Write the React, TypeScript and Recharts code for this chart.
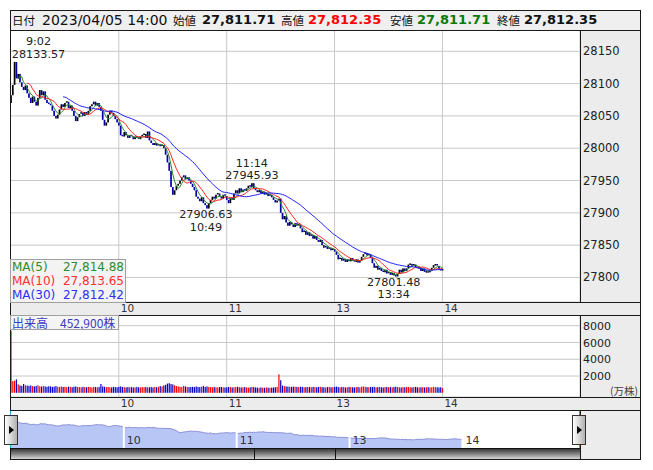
import React from 'react';
import { ComposedChart, Bar, Line, Area, XAxis, YAxis, CartesianGrid, ReferenceDot, ReferenceLine } from 'recharts';

const FONT = '"DejaVu Sans", Verdana, sans-serif';
const JP = '"Noto Sans CJK JP", "DejaVu Sans", sans-serif';

// ---- data ----
const tradeDate = '2023/04/05';
const firstOpen = 28070;
const closes = [
  28082, 28098, 28133.57, 28108, 28115, 28102, 28095, 28090, 28097, 28085,
  28078, 28070, 28080, 28072, 28066, 28078, 28090, 28082, 28088, 28075,
  28070, 28068, 28066, 28058, 28050, 28046, 28052, 28060, 28068, 28064,
  28070, 28072, 28062, 28066, 28058, 28050, 28042, 28048, 28053, 28055,
  28050, 28056, 28052, 28058, 28065, 28068, 28072, 28066, 28070, 28064,
  28058, 28044, 28035, 28040, 28052, 28058, 28055, 28050, 28045, 28040,
  28035, 28020, 28018, 28025, 28020, 28016, 28020, 28018, 28014, 28018,
  28016, 28014, 28018, 28020, 28022, 28016, 28026, 28012, 28008, 28005,
  28008, 28004, 28006, 28003, 28005, 28000, 27990, 27978, 27965, 27940,
  27928, 27935, 27942, 27945, 27950, 27955, 27958, 27952, 27955, 27950,
  27945, 27940, 27935, 27925, 27922, 27918, 27924, 27915, 27912, 27906.63,
  27915, 27920, 27925, 27922, 27928, 27930, 27925, 27922, 27928, 27926,
  27920, 27915, 27922, 27920, 27930, 27935, 27930, 27938, 27932, 27936,
  27934, 27938, 27942, 27940, 27945.93, 27938, 27935, 27932, 27935, 27930,
  27933, 27928, 27930, 27926, 27928, 27924, 27920, 27916, 27919, 27922,
  27900, 27890, 27895, 27885, 27880, 27886, 27882, 27878, 27884, 27880,
  27882, 27876, 27870, 27872, 27866, 27870, 27864, 27866, 27860, 27864,
  27858, 27855, 27858, 27850, 27846, 27848, 27844, 27846, 27842, 27844,
  27840, 27835, 27828, 27830, 27826, 27829, 27824, 27828, 27825, 27830,
  27826, 27824, 27828, 27823, 27826, 27832, 27836, 27838, 27834, 27836,
  27830, 27822, 27815, 27818, 27812, 27815, 27810, 27808, 27812, 27806,
  27808, 27804, 27807, 27803, 27801.48, 27806, 27812, 27808, 27814, 27810,
  27814, 27820, 27821, 27818, 27820, 27816, 27814, 27815, 27810, 27814,
  27808.62, 27809, 27808, 27811, 27815, 27819.09, 27820, 27818, 27812.35, 27811.71,
  27812.35,
];
const volumes = [
  7400, 1400, 1450, 1600, 1000, 880, 820, 1050, 900, 860,
  830, 880, 800, 760, 820, 900, 780, 740, 800, 760,
  720, 780, 760, 700, 740, 800, 720, 690, 760, 700,
  720, 680, 740, 700, 660, 720, 760, 690, 700, 650,
  700, 680, 660, 720, 690, 640, 700, 680, 660, 700,
  1050, 760, 720, 680, 700, 660, 640, 700, 680, 660,
  720, 760, 700, 680, 640, 700, 660, 680, 640, 660,
  700, 660, 640, 680, 660, 700, 640, 660, 680, 640,
  700, 660, 720, 800, 760, 880, 950, 1100, 1150, 1050,
  1000, 900, 800, 760, 720, 700, 820, 760, 700, 680,
  700, 720, 680, 760, 700, 680, 720, 800, 700, 760,
  700, 680, 650, 700, 660, 640, 680, 700, 660, 640,
  660, 700, 680, 640, 660, 700, 720, 680, 640, 660,
  680, 640, 620, 660, 700, 680, 640, 620, 600, 640,
  620, 600, 640, 620, 600, 620, 640, 660, 700, 2200,
  1500, 860, 800, 760, 740, 720, 700, 740, 720, 700,
  680, 720, 700, 660, 680, 700, 680, 660, 700, 680,
  660, 700, 720, 680, 660, 640, 680, 700, 660, 680,
  700, 740, 680, 660, 700, 680, 640, 660, 700, 680,
  660, 640, 680, 700, 660, 720, 760, 700, 680, 660,
  700, 680, 720, 660, 680, 700, 660, 640, 680, 700,
  660, 680, 640, 700, 720, 680, 660, 640, 680, 660,
  700, 680, 660, 640, 680, 700, 660, 640, 660, 680,
  640, 660, 680, 640, 660, 700, 680, 660, 640, 660,
  560,
];
const volumeLabel = '出来高　452,900株';
const priceTicks = [27800, 27850, 27900, 27950, 28000, 28050, 28100, 28150];
const volumeTicks = [2000, 4000, 6000, 8000];
const hourTicks = ['10:00', '11:00', '13:00', '14:00'];
const annotations = [
  { time: '9:02', value: 28133.57, above: true, dx: 24 },
  { time: '11:14', value: 27945.93, above: true, dx: 0 },
  { time: '10:49', value: 27906.63, above: false, dx: -1 },
  { time: '13:34', value: 27801.48, above: false, dx: -2 },
];
const maPeriods = [
  { n: 5, key: 'ma5', color: '#2a8a2a', text: '#2e8b2e' },
  { n: 10, key: 'ma10', color: '#ff2020', text: '#ff3030' },
  { n: 30, key: 'ma30', color: '#2020ff', text: '#3030f0' },
];

// ---- categories (minute slots, lunch break removed) ----
const fmtTime = (m: number) => `${Math.floor(m / 60)}:${String(m % 60).padStart(2, '0')}`;
const MAIN_SLOTS = 317;
const NAV_SLOTS = 303;
const slotTimes: string[] = [];
for (let m = 9 * 60; m < 11 * 60 + 30; m++) slotTimes.push(fmtTime(m));
for (let m = 12 * 60 + 30; slotTimes.length < MAIN_SLOTS; m++) slotTimes.push(fmtTime(m));

const movingAvg = (n: number, i: number) => {
  if (i < n - 1) return null;
  let s = 0;
  for (let k = i - n + 1; k <= i; k++) s += closes[k];
  return s / n;
};

const mainData = slotTimes.map((t, i) => {
  if (i >= closes.length) return { t } as any;
  const o = i === 0 ? firstOpen : closes[i - 1];
  const c = closes[i];
  const row: any = { t, o, c, up: c >= o, body: [Math.min(o, c), Math.max(o, c)], vol: volumes[i] };
  maPeriods.forEach((p) => (row[p.key] = movingAvg(p.n, i)));
  return row;
});
const navData = mainData.slice(0, NAV_SLOTS);
const last = mainData[closes.length - 1];

const comma = (v: number) => v.toLocaleString('en-US', { minimumFractionDigits: 2, maximumFractionDigits: 2 });

// ---- shapes ----
const Candle = (p: any) => {
  const { x, y, width, height, payload } = p;
  if (!payload || payload.c == null) return <g />;
  const top = height < 0 ? y + height : y;
  const h = Math.max(1.5, Math.abs(height));
  const cx = x + width / 2;
  return <rect x={cx - 0.85} y={top - (h > Math.abs(height) ? 0.5 : 0)} width={1.7} height={h} fill={payload.up ? '#000000' : '#0000a8'} />;
};
const VolBar = (p: any) => {
  const { x, y, width, height, payload } = p;
  if (!payload || payload.vol == null) return <g />;
  const top = height < 0 ? y + height : y;
  const cx = x + width / 2;
  return <rect x={cx - 0.6} y={top} width={1.2} height={Math.abs(height)} fill={payload.up ? '#ff0000' : '#0000c8'} />;
};
const HourTick = (p: any) => (
  <text x={p.x + 2} y={p.y + 10} fontSize={10.5} fill="#333" fontFamily={FONT}>
    {String(p.payload.value).split(':')[0]}
  </text>
);
const RightTick = (size: number) => (p: any) => (
  <text x={p.x + 3} y={p.y + 4} fontSize={size} fill="#222" fontFamily={FONT}>
    {p.payload.value}
  </text>
);
const annLabel = (a: any) => (props: any) => {
  const vb = props.viewBox || { x: 0, y: 0, width: 0, height: 0 };
  const cx = vb.x + (vb.width || 0) / 2 + a.dx;
  const cy = vb.y + (vb.height || 0) / 2;
  const lines = a.above ? [a.time, a.value.toFixed(2)] : [a.value.toFixed(2), a.time];
  const y1 = a.above ? cy - 16.5 : cy + 9.5;
  return (
    <g>
      <text x={cx} y={y1} textAnchor="middle" fontSize={11.2} fill="#222" fontFamily={FONT}>{lines[0]}</text>
      <text x={cx} y={y1 + 12.5} textAnchor="middle" fontSize={11.2} fill="#222" fontFamily={FONT}>{lines[1]}</text>
    </g>
  );
};
const navLabel = (txt: string) => (props: any) => {
  const vb = props.viewBox || { x: 0, y: 0, height: 0 };
  return (
    <text x={vb.x + 3} y={vb.y + vb.height - 4} fontSize={11} fill="#333" fontFamily={FONT}>{txt}</text>
  );
};

const abs = (l: number, t: number, w: number, h: number, extra: any = {}) => ({
  position: 'absolute' as const, left: l, top: t, width: w, height: h, boxSizing: 'border-box' as const, ...extra,
});

const Handle = ({ left }: { left: number }) => (
  <div style={abs(left, 415, 14, 30, { border: '1px solid #333', background: 'linear-gradient(to right, #ffffff, #b0b0b0)' })}>
    <div style={{ position: 'absolute', left: 4, top: 10, width: 0, height: 0, borderTop: '4px solid transparent', borderBottom: '4px solid transparent', borderLeft: '5px solid #000' }} />
  </div>
);

export default function App() {
  const headerItems = [
    { x: 12, text: '日付', font: JP, size: 11.5, weight: 400, color: '#111' },
    { x: 42, text: `${tradeDate} ${last.t}`, font: FONT, size: 14, weight: 400, color: '#111' },
    { x: 173, text: '始値', font: JP, size: 11.5, weight: 400, color: '#111' },
    { x: 202, text: comma(last.o), font: FONT, size: 13, weight: 700, color: '#111' },
    { x: 281, text: '高値', font: JP, size: 11.5, weight: 400, color: '#111' },
    { x: 308, text: comma(Math.max(last.o, last.c)), font: FONT, size: 13, weight: 700, color: '#ff0000' },
    { x: 390, text: '安値', font: JP, size: 11.5, weight: 400, color: '#111' },
    { x: 417, text: comma(Math.min(last.o, last.c)), font: FONT, size: 13, weight: 700, color: '#0a7a0a' },
    { x: 497, text: '終値', font: JP, size: 11.5, weight: 400, color: '#111' },
    { x: 524, text: comma(last.c), font: FONT, size: 13, weight: 700, color: '#111' },
  ];
  const line = '#1a1a1a';
  const panel = '#ececec';
  return (
    <div style={{ position: 'absolute', left: 0, top: 0, width: 653, height: 470, background: '#fff', overflow: 'hidden', fontFamily: FONT }}>
      {/* backgrounds */}
      <div style={abs(10, 10, 630, 20, { background: '#efefef' })} />
      <div style={abs(580, 30, 60, 272, { background: panel })} />
      <div style={abs(10, 302, 630, 13, { background: panel })} />
      <div style={abs(580, 315, 60, 82, { background: panel })} />
      <div style={abs(10, 397, 630, 13, { background: panel })} />
      <div style={abs(580, 410, 60, 49, { background: panel })} />

      {/* price chart */}
      <div style={abs(10, 30, 630, 285)}>
        <ComposedChart width={630} height={285} data={mainData} margin={{ top: 0, right: 0, bottom: 0, left: 0 }} barCategoryGap={0} barGap={0}>
          <CartesianGrid stroke="#c8c8c8" />
          <XAxis dataKey="t" scale="band" ticks={hourTicks} interval={0} height={13} tickLine={false} axisLine={false} tickSize={0} tickMargin={0} tick={HourTick} />
          <YAxis orientation="right" width={60} domain={[27762, 28183]} allowDataOverflow ticks={priceTicks} interval={0} tickLine={false} axisLine={false} tickSize={0} tickMargin={0} tick={RightTick(11.5)} />
          <Bar dataKey="body" shape={Candle} isAnimationActive={false} />
          {maPeriods.map((p) => (
            <Line key={p.key} dataKey={p.key} stroke={p.color} strokeWidth={1} dot={false} activeDot={false} isAnimationActive={false} />
          ))}
          {annotations.map((a) => (
            <ReferenceDot key={a.time} x={a.time} y={a.value} r={0} fill="none" stroke="none" label={annLabel(a)} />
          ))}
        </ComposedChart>
      </div>

      {/* volume chart */}
      <div style={abs(10, 315, 630, 95)}>
        <ComposedChart width={630} height={95} data={mainData} margin={{ top: 0, right: 0, bottom: 0, left: 0 }} barCategoryGap={0} barGap={0}>
          <CartesianGrid stroke="#c8c8c8" />
          <XAxis dataKey="t" scale="band" ticks={hourTicks} interval={0} height={13} tickLine={false} axisLine={false} tickSize={0} tickMargin={0} tick={HourTick} />
          <YAxis orientation="right" width={60} domain={[-500, 9280]} allowDataOverflow ticks={volumeTicks} interval={0} tickLine={false} axisLine={false} tickSize={0} tickMargin={0} tick={RightTick(11)} />
          <Bar dataKey="vol" shape={VolBar} isAnimationActive={false} />
        </ComposedChart>
      </div>

      {/* navigator */}
      <div style={abs(10, 411, 570, 37)}>
        <ComposedChart width={570} height={37} data={navData} margin={{ top: 0, right: 0, bottom: 0, left: 0 }}>
          <XAxis dataKey="t" scale="band" hide />
          <YAxis hide domain={[27658, 28313]} allowDataOverflow />
          <Area dataKey="c" type="linear" stroke="#8a8fd6" strokeWidth={1} fill="#b8c6f6" fillOpacity={1} dot={false} activeDot={false} isAnimationActive={false} />
          {hourTicks.map((h) => (
            <ReferenceLine key={h} x={h} stroke="#ffffff" strokeWidth={2} label={navLabel(h.split(':')[0])} />
          ))}
        </ComposedChart>
      </div>

      {/* frame lines */}
      {[10, 30, 302, 315, 397, 410, 459].map((y) => (
        <div key={'h' + y} style={abs(10, y, 631, 1, { background: line })} />
      ))}
      <div style={abs(10, 10, 1, 400, { background: line })} />
      <div style={abs(640, 10, 1, 450, { background: line })} />
      <div style={abs(580, 30, 1, 272, { background: line })} />
      <div style={abs(580, 315, 1, 82, { background: line })} />
      <div style={abs(580, 410, 1, 49, { background: line })} />
      <div style={abs(10, 411, 1, 37, { background: '#29a8e0' })} />
      <div style={abs(579, 411, 1, 37, { background: '#29a8e0' })} />

      {/* scrollbar */}
      <div style={abs(10, 448, 570, 11, { background: 'linear-gradient(to bottom, #3a3a3a, #7c7c7c 45%, #d6d6d6)', borderTop: '1px solid #111', borderLeft: '1px solid #111' })} />
      <div style={abs(254, 448, 1, 11, { background: '#111' })} />
      <div style={abs(335, 448, 1, 11, { background: '#111' })} />
      <Handle left={4} />
      <Handle left={572} />

      {/* header text */}
      {headerItems.map((h, i) => (
        <div key={i} style={{ position: 'absolute', left: h.x, top: 10, height: 20, lineHeight: '20px', fontFamily: h.font, fontSize: h.size, fontWeight: h.weight, color: h.color, whiteSpace: 'nowrap' }}>
          {h.text}
        </div>
      ))}

      {/* MA legend */}
      <div style={abs(10, 259, 116, 44, { background: 'rgba(242,242,242,0.92)', border: '1px solid #a0a0a0' })}>
        {maPeriods.map((p) => (
          <div key={p.key} style={{ position: 'relative', height: 14, lineHeight: '14px', fontSize: 12, fontFamily: FONT, color: p.text, whiteSpace: 'nowrap' }}>
            <span style={{ position: 'absolute', left: 1 }}>{`MA(${p.n})`}</span>
            <span style={{ position: 'absolute', right: 1 }}>{comma(last[p.key])}</span>
          </div>
        ))}
      </div>

      {/* volume label */}
      <div style={abs(10, 315, 109, 15, { background: 'rgba(244,244,244,0.95)', border: '1px solid #a0a0a0', fontFamily: JP, fontSize: 12, lineHeight: '13px', color: '#3c3cc0', paddingLeft: 1, whiteSpace: 'nowrap', overflow: 'hidden' })}>
        {volumeLabel}
      </div>
      <div style={{ position: 'absolute', right: 15, top: 384, fontFamily: JP, fontSize: 10.5, color: '#444', lineHeight: '14px' }}>(万株)</div>
    </div>
  );
}
